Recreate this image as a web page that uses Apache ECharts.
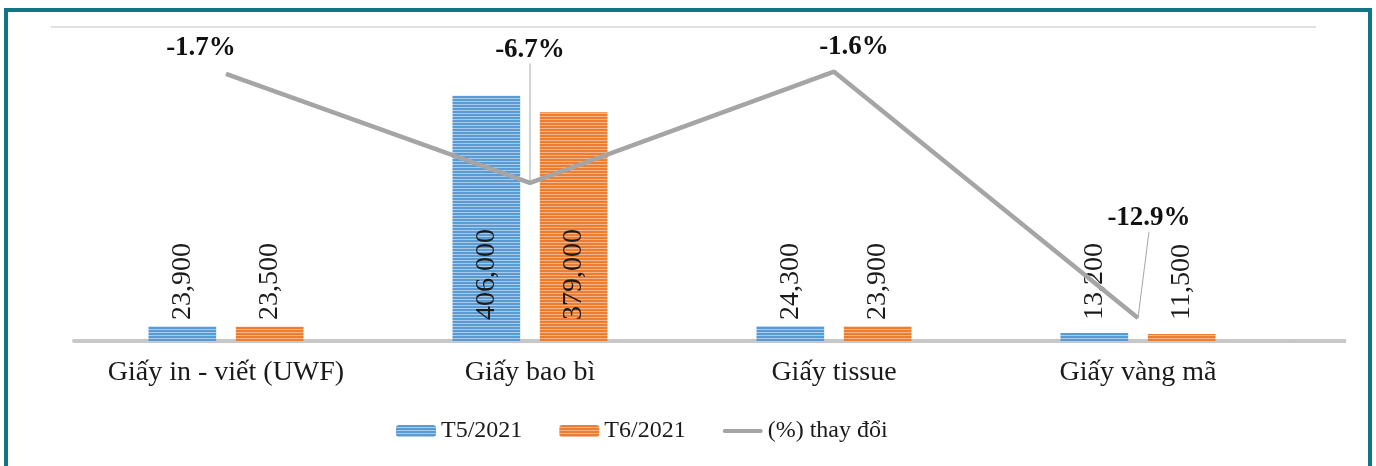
<!DOCTYPE html>
<html>
<head>
<meta charset="utf-8">
<script src="https://cdn.jsdelivr.net/npm/echarts@6/dist/echarts.min.js"></script>
<style>
  html, body { margin: 0; padding: 0; background: #fff; }
  #chart { width: 1376px; height: 466px; }
</style>
</head>
<body>
<div id="chart"></div>
<script>
// data
const categories = ['Giấy in - viết (UWF)', 'Giấy bao bì', 'Giấy tissue', 'Giấy vàng mã'];
const t5Values = [23900, 406000, 24300, 13200];
const t6Values = [23500, 379000, 23900, 11500];
const pctChange = [-1.7, -6.7, -1.6, -12.9];
const seriesNames = ['T5/2021', 'T6/2021', '(%) thay đổi'];

// where each % label sits relative to its point (dx, dy)
const pctShift = [[-25, -7], [0, -114], [20, -6], [11, -81]];

const serif = "'Liberation Serif', 'Times New Roman', serif";

// excel-like narrow horizontal stripes
function stripes(base, light) {
    const c = document.createElement('canvas');
    c.width = 4;
    c.height = 3;
    const g = c.getContext('2d');
    g.fillStyle = base;
    g.fillRect(0, 0, 4, 3);
    g.fillStyle = light;
    g.fillRect(0, 2, 4, 1);
    return { image: c, repeat: 'repeat' };
}

const chart = echarts.init(document.getElementById('chart'));

const barLabel = {
    show: true,
    position: 'insideBottom',
    distance: 21,
    rotate: 90,
    align: 'left',
    verticalAlign: 'middle',
    fontFamily: serif,
    fontSize: 28,
    color: '#1a1a1a',
    formatter: (p) => p.value.toLocaleString('en-US')
};

const option = {
    animation: false,
    backgroundColor: '#fff',
    grid: { left: 74, right: 86, top: 27, bottom: 125 },
    legend: {
        left: 391,
        top: 414,
        itemWidth: 40,
        itemHeight: 12,
        itemGap: 37,
        textStyle: { fontFamily: serif, fontSize: 24, color: '#1a1a1a' },
        data: [
            { name: seriesNames[0] },
            { name: seriesNames[1] },
            { name: seriesNames[2], icon: 'path://M2,0L38,0A2,2,0,0,1,38,4L2,4A2,2,0,0,1,2,0Z' }
        ]
    },
    xAxis: {
        type: 'category',
        data: categories,
        axisTick: { show: false },
        axisLine: { lineStyle: { color: '#c8c8c8', width: 4 } },
        axisLabel: { interval: 0, margin: 18, fontFamily: serif, fontSize: 28, color: '#1a1a1a' }
    },
    yAxis: [
        { type: 'value', min: 0, max: 520000, show: false, splitLine: { show: false } },
        { type: 'value', min: -13.95, max: 0.45, show: false, splitLine: { show: false } }
    ],
    series: [
        {
            name: seriesNames[0],
            type: 'bar',
            barGap: '29%',
            barCategoryGap: '49%',
            itemStyle: { color: stripes('#5b9bd5', '#a9cbea') },
            label: barLabel,
            data: t5Values
        },
        {
            name: seriesNames[1],
            type: 'bar',
            itemStyle: { color: stripes('#ed7d31', '#f6b48a') },
            label: barLabel,
            data: t6Values
        },
        {
            name: seriesNames[2],
            type: 'line',
            yAxisIndex: 1,
            symbol: 'circle',
            symbolSize: 1,
            color: '#a5a5a5',
            lineStyle: { color: '#a5a5a5', width: 4.5 },
            z: 5,
            label: {
                show: true,
                position: 'top',
                fontFamily: serif,
                fontWeight: 'bold',
                fontSize: 27,
                color: '#111',
                formatter: (p) => p.value.toFixed(1) + '%'
            },
            labelLayout: (p) => ({ dx: pctShift[p.dataIndex][0], dy: pctShift[p.dataIndex][1] }),
            labelLine: { show: false, lineStyle: { color: '#a6a6a6', width: 1 } },
            data: pctChange.map((v, i) => ({
                value: v,
                labelLine: { show: i === 1 || i === 3 }
            }))
        }
    ],
    graphic: [
        // frame
        { type: 'rect', shape: { x: 6, y: 10, width: 1364, height: 470 },
          style: { fill: 'none', stroke: '#107585', lineWidth: 4 }, z: 10 },
        // thin top rule
        { type: 'line', shape: { x1: 51, y1: 27, x2: 1316, y2: 27 },
          style: { stroke: '#d9d9d9', lineWidth: 1.5 } },
        // baseline runs a bit past the last category
        { type: 'line', shape: { x1: 1288, y1: 341, x2: 1346, y2: 341 },
          style: { stroke: '#c8c8c8', lineWidth: 4 } }
    ]
};

chart.setOption(option);
</script>
</body>
</html>
